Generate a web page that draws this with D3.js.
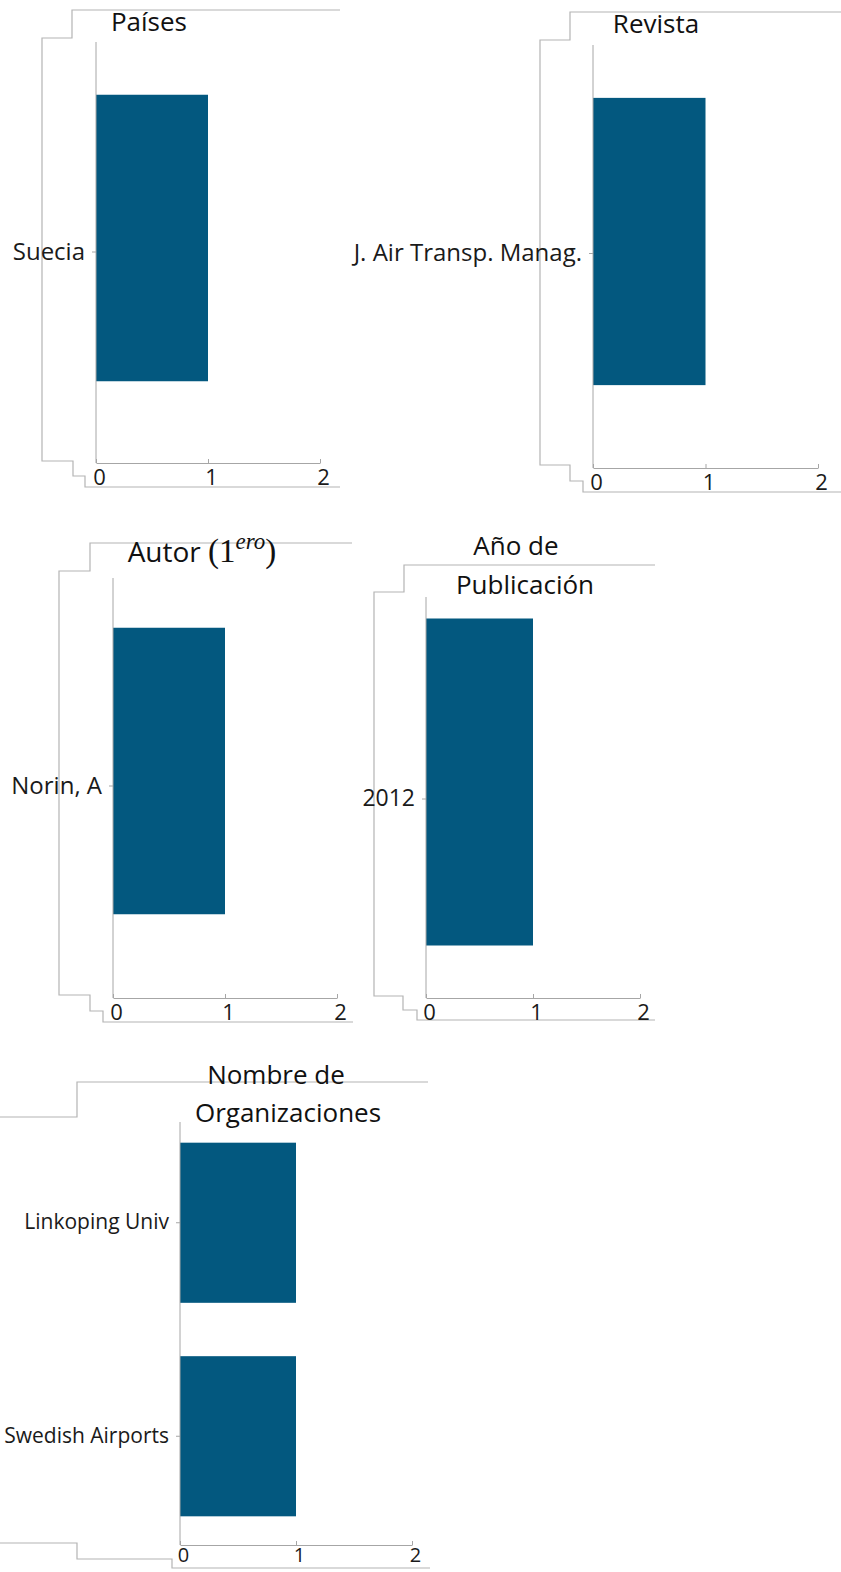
<!DOCTYPE html>
<html>
<head>
<meta charset="utf-8">
<script src="https://cdn.jsdelivr.net/npm/d3@7"></script>
<style>
  body { margin: 0; background: #fff; }
  svg { display: block; }
  .frame { fill: none; stroke: #b4b4b4; stroke-width: 1.2; }
  .axis path.domain { stroke: #a6a6a6; }
  .axis line { stroke: #a6a6a6; }
  .axis text { font-family: "Open Sans", Lato, sans-serif; fill: #1a1a1a; }
</style>
</head>
<body>
<script>
// data
var paisCats = ["Suecia"];
var paisVals = [1];
var revistaCats = ["J. Air Transp. Manag."];
var revistaVals = [1];
var autorCats = ["Norin, A"];
var autorVals = [1];
var anioCats = ["2012"];
var anioVals = [1];
var orgCats = ["Linkoping Univ", "Swedish Airports"];
var orgVals = [1, 1];
var xTicks = [0, 1, 2];
var xMax = 2;

var width = 841, height = 1572;
var barColor = "#03587f";

var svg = d3.select("body").append("svg")
    .attr("width", width)
    .attr("height", height);

// panel layout (positions only)
var panels = [
  { cats: paisCats, vals: paisVals,
    x0: 96, x1: 320, yTop: 42, yBot: 463, band: [47, 429], labelShift: 14, labelSize: 24,
    tickSize: 22, tickPad: 6,
    title: [{t: "Países", x: 149, y: 31}],
    frame: "M340,10H72V38H42V461H73V476H85V487H340" },
  { cats: revistaCats, vals: revistaVals,
    x0: 593, x1: 818, yTop: 45, yBot: 468, band: [50, 433], labelShift: 12, labelSize: 24,
    tickSize: 22, tickPad: 6,
    title: [{t: "Revista", x: 656, y: 33}],
    frame: "M841,12H570V40H540V465H570V481H583V492H841" },
  { cats: autorCats, vals: autorVals,
    x0: 113, x1: 337, yTop: 578, yBot: 998, band: [580, 962], labelShift: 15, labelSize: 24,
    tickSize: 22, tickPad: 6,
    title: null,
    frame: "M352,543H90V571H59V995H90V1011H103V1022H353" },
  { cats: anioCats, vals: anioVals,
    x0: 426, x1: 640, yTop: 597, yBot: 998, band: [564, 1000], labelShift: 17, labelSize: 23,
    tickSize: 22, tickPad: 6,
    title: [{t: "Año de", x: 516, y: 555}, {t: "Publicación", x: 525, y: 594}],
    frame: "M655,565H404V592H374V996H403V1010H417V1020H655" },
  { cats: orgCats, vals: orgVals,
    x0: 180, x1: 412, yTop: 1122, yBot: 1545, band: [1116, 1543], labelShift: 0, labelSize: 21,
    tickSize: 20, tickPad: 3,
    title: [{t: "Nombre de", x: 276, y: 1084}, {t: "Organizaciones", x: 288, y: 1122}],
    frame: "M428,1082H77V1117H0M0,1543H77V1559H172V1568H430" }
];

panels.forEach(function(p) {
  // stepped outline
  svg.append("path").attr("class", "frame").attr("d", p.frame);

  var x = d3.scaleLinear().domain([0, xMax]).range([p.x0, p.x1]);
  var y = d3.scaleBand().domain(p.cats).range(p.band)
      .paddingInner(0.25).paddingOuter(0.125);

  // bars
  svg.append("g").selectAll("rect")
      .data(p.cats)
      .enter().append("rect")
      .attr("x", x(0))
      .attr("y", function(d) { return y(d); })
      .attr("width", function(d, i) { return x(p.vals[i]) - x(0); })
      .attr("height", y.bandwidth())
      .attr("fill", barColor);

  // x axis
  var gx = svg.append("g")
      .attr("class", "axis")
      .attr("transform", "translate(0," + p.yBot + ")")
      .call(d3.axisBottom(x).tickValues(xTicks).tickFormat(d3.format("d"))
          .tickSizeInner(-4).tickSizeOuter(0).tickPadding(p.tickPad));
  gx.selectAll("text").attr("font-size", p.tickSize).attr("dx", 3);

  // y axis
  var gy = svg.append("g")
      .attr("class", "axis")
      .attr("transform", "translate(" + p.x0 + ",0)")
      .call(d3.axisLeft(y).tickSizeInner(4).tickSizeOuter(0).tickPadding(7));
  gy.select("path.domain").remove();
  gy.selectAll(".tick").attr("transform", function(d) {
    return "translate(0," + (y(d) + y.bandwidth() / 2 + p.labelShift) + ")";
  });
  gy.selectAll("text").attr("font-size", p.labelSize);
  svg.append("line")
      .attr("x1", p.x0).attr("x2", p.x0)
      .attr("y1", p.yTop).attr("y2", p.yBot)
      .attr("stroke", "#a6a6a6");

  // title
  if (p.title) {
    p.title.forEach(function(t) {
      svg.append("text")
          .attr("x", t.x).attr("y", t.y)
          .attr("text-anchor", "middle")
          .attr("font-family", "'Open Sans', Lato, sans-serif")
          .attr("font-size", 26)
          .attr("fill", "#111")
          .text(t.t);
    });
  }
});

// Autor title with the math superscript
var at = svg.append("text")
    .attr("x", 202).attr("y", 562)
    .attr("text-anchor", "middle")
    .attr("font-size", 28)
    .attr("fill", "#111");
at.append("tspan").attr("font-family", "'Open Sans', sans-serif").text("Autor ");
at.append("tspan").attr("font-family", "'Liberation Serif', 'DejaVu Serif', serif").attr("font-size", 33).text("(1");
at.append("tspan").attr("font-family", "'Liberation Serif', serif").attr("font-style", "italic")
    .attr("font-size", 23).attr("dy", -13).text("ero");
at.append("tspan").attr("font-family", "'Liberation Serif', serif").attr("font-size", 33)
    .attr("dy", 13).text(")");
</script>
</body>
</html>
